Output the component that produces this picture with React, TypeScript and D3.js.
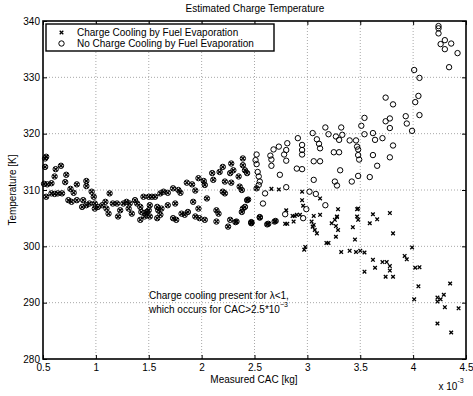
import { useEffect, useRef } from 'react';
import * as d3 from 'd3';

// points where both models agree (drawn as circle + x)
const sharedCac = [
  0.52, 0.53, 0.52, 0.62, 0.67, 0.61, 0.72, 0.71, 0.51, 0.54, 0.58, 0.82, 0.91, 0.91, 0.76, 0.79,
  0.53, 0.58, 0.61, 0.64, 0.68, 0.74, 0.77, 0.82, 0.88, 0.87, 0.91, 0.96, 0.98, 0.94, 0.99, 0.99,
  1.02, 1.06, 1.09, 1.10, 1.12, 1.13, 1.16, 1.20, 1.23, 1.21, 1.26, 1.29, 1.31, 1.32, 1.34, 1.37,
  1.39, 1.42, 1.43, 1.42, 1.48, 1.51, 1.45, 1.50, 1.53, 1.56, 1.61, 1.64, 1.68, 1.73, 1.78, 1.80,
  1.86, 1.91, 1.94, 1.97, 2.02, 2.03, 2.10, 2.11, 2.17, 2.20, 2.22, 2.27, 2.28, 2.30, 2.35, 2.39,
  2.39, 2.41, 2.43, 2.36, 2.38, 2.28, 2.20, 2.22, 1.51, 1.50, 1.58, 1.59, 1.61, 1.58, 1.62, 1.68,
  1.75, 1.73, 1.76, 1.81, 1.84, 1.87, 1.92, 1.94, 1.97, 1.98, 2.03, 2.05, 2.14, 2.16, 2.14, 2.27,
  2.25, 2.33, 2.38, 2.39, 2.41, 2.43, 2.47, 1.46, 1.48, 2.44, 2.32, 2.47, 2.55, 2.62, 2.70, 2.52,
  2.63, 2.69, 2.47, 2.55,
];
const sharedTemp = [
  315.6, 315.9, 314.1, 313.7, 314.3, 312.4, 312.7, 311.4, 311.1, 311.0, 311.2, 311.0, 311.6, 310.7, 310.2, 309.5,
  308.8, 309.4, 309.3, 309.4, 309.4, 308.2, 307.9, 308.2, 308.2, 307.0, 307.3, 309.7, 308.8, 307.6, 307.6, 306.7,
  307.0, 307.3, 307.9, 306.7, 305.8, 309.4, 307.6, 307.6, 306.4, 305.3, 307.6, 307.9, 306.7, 307.6, 305.8, 308.2,
  307.6, 307.0, 306.1, 304.7, 305.8, 305.3, 308.8, 308.8, 308.8, 308.8, 309.4, 309.7, 309.5, 310.3, 310.0, 309.5,
  311.3, 311.0, 309.9, 312.1, 311.6, 310.9, 313.0, 311.8, 313.2, 314.1, 311.5, 313.0, 314.7, 313.5, 312.4, 315.6,
  314.4, 313.5, 313.0, 310.6, 310.0, 311.3, 309.7, 309.4, 307.3, 306.4, 307.0, 306.4, 305.6, 305.0, 306.7, 307.3,
  307.6, 305.0, 304.7, 305.8, 305.6, 306.1, 307.9, 305.3, 306.7, 305.0, 304.7, 308.5, 306.4, 305.8, 304.4, 304.7,
  303.5, 304.4, 306.1, 306.7, 307.0, 308.2, 304.1, 305.3, 306.1, 308.3, 304.3, 304.3, 305.1, 303.9, 304.5, 310.3,
  304.0, 304.4, 304.2, 305.2,
];

// no charge cooling (circles only)
const noCoolCac = [
  2.52, 2.51, 2.52, 2.53, 2.54, 2.55, 2.54, 2.65, 2.68, 2.66, 2.66, 2.74, 2.78, 2.80, 2.81, 2.80,
  2.91, 2.95, 2.95, 2.95, 2.90, 2.95, 3.05, 3.09, 3.11, 3.12, 3.17, 3.20, 3.27, 3.30, 3.32, 3.33,
  3.25, 3.30, 3.06, 3.12, 3.31, 3.06, 3.26, 3.28, 3.42, 3.40, 3.46, 3.47, 3.48, 3.02, 3.08, 2.80,
  2.60, 2.99, 2.58, 2.79, 2.96, 3.17, 4.24, 4.24, 4.24, 4.30, 4.26, 4.36, 4.30, 4.42, 4.34, 4.01,
  4.06, 4.05, 4.02, 4.06, 3.93, 3.94, 3.99, 3.74, 3.81, 3.74, 3.78, 3.78, 3.81, 3.78, 3.66, 3.59,
  3.62, 3.71, 3.64, 3.54, 3.51, 3.54, 3.49, 3.48, 3.62, 3.48, 2.73,
];
const noCoolTemp = [
  316.3, 315.3, 314.6, 313.2, 312.4, 311.5, 310.9, 316.1, 317.2, 315.4, 314.3, 312.7, 316.3, 317.1, 318.3, 315.2,
  319.2, 318.0, 317.1, 316.3, 313.8, 313.7, 320.1, 319.0, 318.2, 317.4, 321.1, 319.9, 319.5, 318.9, 321.1, 319.8,
  316.7, 316.7, 315.1, 315.1, 313.5, 311.8, 311.5, 310.8, 311.5, 318.8, 318.8, 317.7, 316.2, 309.7, 309.3, 310.5,
  309.4, 306.6, 307.6, 305.7, 305.0, 307.3, 339.1, 338.7, 337.8, 336.6, 335.9, 336.0, 335.0, 334.3, 331.8, 331.3,
  329.9, 326.7, 325.6, 323.3, 323.1, 321.8, 320.5, 326.4, 325.2, 322.2, 322.7, 321.0, 317.9, 315.8, 314.3, 312.3,
  316.2, 319.2, 318.9, 322.8, 321.4, 319.9, 315.4, 312.5, 320.1, 317.2, 317.7,
];

// charge cooling by fuel evaporation (x only)
const coolCac = [
  2.66, 2.73, 2.95, 2.95, 3.12, 3.29, 3.48, 2.80, 3.06, 3.12, 3.28, 2.79, 2.81, 2.87, 2.90, 2.93,
  2.96, 3.04, 3.05, 3.07, 3.09, 3.06, 3.23, 3.26, 3.28, 3.27, 3.29, 3.27, 3.18, 3.20, 2.98, 2.97,
  3.32, 3.40, 3.46, 3.45, 3.43, 3.47, 3.47, 3.48, 3.62, 3.59, 3.66, 3.78, 3.81, 3.50, 3.54, 3.54,
  3.62, 3.64, 3.71, 3.75, 3.78, 3.78, 3.74, 3.81, 3.92, 3.94, 3.99, 4.02, 4.06, 4.05, 4.01, 4.35,
  4.29, 4.23, 4.26, 4.23, 4.30, 4.43, 4.23, 4.36, 2.86, 2.88,
];
const coolTemp = [
  310.2, 310.1, 309.7, 308.2, 308.5, 306.6, 306.7, 306.4, 305.4, 305.6, 305.2, 304.0, 304.0, 304.4, 305.6, 305.6,
  307.2, 304.4, 303.5, 302.9, 302.3, 303.8, 304.1, 304.7, 305.3, 303.6, 302.9, 301.7, 300.6, 300.6, 299.9, 299.4,
  299.0, 299.2, 299.0, 301.2, 303.4, 305.3, 306.6, 304.7, 305.7, 304.1, 304.8, 305.9, 302.3, 299.2, 298.9, 295.5,
  297.6, 296.2, 297.2, 297.2, 296.5, 295.7, 294.6, 294.6, 298.3, 297.7, 299.8, 296.2, 296.3, 292.9, 290.6, 293.4,
  291.4, 290.9, 290.6, 290.2, 289.2, 289.0, 286.3, 284.7, 305.4, 305.4,
];

const xTicks = [0.5, 1, 1.5, 2, 2.5, 3, 3.5, 4, 4.5];
const yTicks = [280, 290, 300, 310, 320, 330, 340];
const legendLabels = ['Charge Cooling by Fuel Evaporation', 'No Charge Cooling by Fuel Evaporation'];

const FONT = "'Liberation Sans', Arial, Helvetica, sans-serif";
const crossPath = 'M-1.8,-1.8L1.8,1.8M-1.8,1.8L1.8,-1.8';

const App = () => {
  const svgRef = useRef<SVGSVGElement>(null);

  useEffect(() => {
    document.body.style.margin = '0';
    const width = 473;
    const height = 396;
    const margin = { top: 21, right: 7, bottom: 37, left: 43 };

    const svg = d3.select(svgRef.current);
    svg.selectAll('*').remove();
    svg.attr('width', width).attr('height', height)
      .style('font-family', FONT)
      .style('background', '#fff');

    // scales
    const x = d3.scaleLinear().domain([0.5, 4.5]).range([margin.left, width - margin.right]);
    const y = d3.scaleLinear().domain([280, 340]).range([height - margin.bottom, margin.top]);

    // grid
    const grid = svg.append('g').attr('stroke', '#a8a8a8').attr('stroke-dasharray', '1,2').attr('stroke-width', 1);
    xTicks.slice(1, -1).forEach((t) => {
      grid.append('line').attr('x1', x(t)).attr('x2', x(t)).attr('y1', y(280)).attr('y2', y(340));
    });
    yTicks.slice(1, -1).forEach((t) => {
      grid.append('line').attr('x1', x(0.5)).attr('x2', x(4.5)).attr('y1', y(t)).attr('y2', y(t));
    });

    // axes
    const styleAxis = (g: any) => {
      g.select('.domain').remove();
      g.selectAll('line').attr('stroke', '#000');
      g.selectAll('text').attr('fill', '#000').style('font-family', FONT).style('font-size', '10px');
    };
    svg.append('g').attr('transform', `translate(0,${y(280)})`)
      .call(d3.axisBottom(x).tickValues(xTicks).tickSize(-4).tickPadding(5).tickFormat((d: any) => String(d)))
      .call(styleAxis);
    svg.append('g').attr('transform', `translate(0,${y(340)})`)
      .call(d3.axisTop(x).tickValues(xTicks).tickSize(-4).tickFormat(() => ''))
      .call(styleAxis);
    svg.append('g').attr('transform', `translate(${x(0.5)},0)`)
      .call(d3.axisLeft(y).tickValues(yTicks).tickSize(-4).tickPadding(3).tickFormat((d: any) => String(d)))
      .call(styleAxis);
    svg.append('g').attr('transform', `translate(${x(4.5)},0)`)
      .call(d3.axisRight(y).tickValues(yTicks).tickSize(-4).tickFormat(() => ''))
      .call(styleAxis);

    svg.append('rect')
      .attr('x', x(0.5)).attr('y', y(340))
      .attr('width', x(4.5) - x(0.5)).attr('height', y(280) - y(340))
      .attr('fill', 'none').attr('stroke', '#000').attr('stroke-width', 1.6);

    // markers
    const marks = svg.append('g');
    const drawCircles = (cac: number[], temp: number[]) => {
      marks.append('g').selectAll('circle').data(cac).enter().append('circle')
        .attr('cx', (d) => x(d)).attr('cy', (_d, i) => y(temp[i])).attr('r', 2.7)
        .attr('fill', 'none').attr('stroke', '#000').attr('stroke-width', 1);
    };
    const drawCrosses = (cac: number[], temp: number[]) => {
      marks.append('g').selectAll('path').data(cac).enter().append('path')
        .attr('transform', (d, i) => `translate(${x(d)},${y(temp[i])})`)
        .attr('d', crossPath).attr('stroke', '#000').attr('stroke-width', 1.3).attr('fill', 'none');
    };
    drawCircles(noCoolCac, noCoolTemp);
    drawCircles(sharedCac, sharedTemp);
    drawCrosses(sharedCac, sharedTemp);
    drawCrosses(coolCac, coolTemp);

    // legend
    const lg = svg.append('g');
    lg.append('rect').attr('x', 46).attr('y', 24).attr('width', 228).attr('height', 27)
      .attr('fill', '#fff').attr('stroke', '#000').attr('stroke-width', 1.4);
    lg.append('path').attr('transform', 'translate(61.5,32.5)').attr('d', crossPath)
      .attr('stroke', '#000').attr('stroke-width', 1.3);
    lg.append('circle').attr('cx', 61.5).attr('cy', 43.5).attr('r', 2.7)
      .attr('fill', 'none').attr('stroke', '#000');
    legendLabels.forEach((t, i) => {
      lg.append('text').attr('x', 77).attr('y', 36 + i * 11).attr('font-size', 10).text(t);
    });

    // titles
    svg.append('text').attr('x', 255).attr('y', 11.5).attr('text-anchor', 'middle')
      .attr('font-size', 10).text('Estimated Charge Temperature');
    svg.append('text').attr('x', 254).attr('y', 383).attr('text-anchor', 'middle')
      .attr('font-size', 10).text('Measured CAC [kg]');
    svg.append('text').attr('transform', 'translate(16,190) rotate(-90)').attr('text-anchor', 'middle')
      .attr('font-size', 10).text('Temperature [K]');

    const exp = svg.append('text').attr('x', 438.5).attr('y', 390).attr('font-size', 10);
    exp.append('tspan').text('x 10');
    exp.append('tspan').attr('dy', -7).attr('font-size', 7).text('-3');

    // annotation
    svg.append('text').attr('x', 149).attr('y', 299).attr('font-size', 10)
      .text('Charge cooling present for \u03bb<1,');
    const ann = svg.append('text').attr('x', 149).attr('y', 313).attr('font-size', 10);
    ann.append('tspan').text('which occurs for CAC>2.5*10');
    ann.append('tspan').attr('dy', -6).attr('font-size', 7).text('\u22123');
  }, []);

  return <svg ref={svgRef}></svg>;
};

export default App;
